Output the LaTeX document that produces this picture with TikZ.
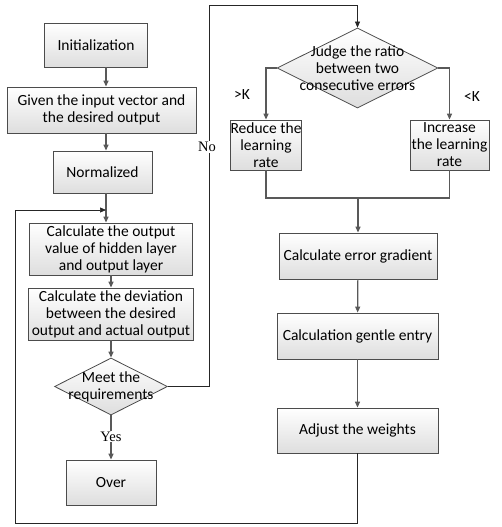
\documentclass[tikz,border=0pt]{standalone}
\usepackage{fontspec}
\setmainfont{Carlito}
\newfontfamily\answerfont{Liberation Serif}
\usetikzlibrary{shapes.geometric, arrows.meta}

\begin{document}
\begin{tikzpicture}[x=1pt, y=-1pt,
  every node/.style={font=\fontsize{15.5}{17}\selectfont, align=center},
  box/.style={draw=black!70, line width=0.8pt, rectangle, inner sep=0pt, top color=white, bottom color=black!13},
  decision/.style={draw=black!70, line width=0.8pt, diamond, inner sep=0pt, top color=white, bottom color=black!13},
  flow/.style={draw=black!65, line width=1.2pt},
  arr/.style={flow, -{Triangle[length=6pt, width=5pt]}},
  loopline/.style={draw=black!85, line width=0.7pt, -{Triangle[length=6pt, width=5pt]}},
  answer/.style={font=\answerfont\fontsize{14.5}{16}\selectfont, fill=white, inner sep=1pt}
]
\useasboundingbox (0,0) rectangle (502,527);

\node[box, minimum width=103, minimum height=44] (init) at (96,45) {Initialization};
\node[box, minimum width=189, minimum height=46] (given) at (101.5,110) {Given the input vector and\\the desired output};
\node[box, minimum width=99, minimum height=42] (norm) at (102.5,172) {Normalized};
\node[box, minimum width=163, minimum height=52] (calcout) at (111,249) {Calculate the output\\value of hidden layer\\and output layer};
\node[box, minimum width=165, minimum height=52] (dev) at (111,314) {Calculate the deviation\\between the desired\\output and actual output};
\node[decision, minimum width=113, minimum height=57] (meet) at (111,386.5) {};
\node (meettext) at (meet) {Meet the\\requirements};
\node[box, minimum width=90, minimum height=45] (over) at (111,482.5) {Over};

\node[decision, minimum width=161, minimum height=80] (judge) at (357.5,68) {};
\node (judgetext) at (judge) {Judge the ratio\\between two\\consecutive errors};
\node[box, minimum width=71, minimum height=50] (reduce) at (266,145) {Reduce the\\learning\\rate};
\node[box, minimum width=79, minimum height=50] (increase) at (449.5,145) {Increase\\the learning\\rate};
\node[box, minimum width=158, minimum height=46] (grad) at (358,256) {Calculate error gradient};
\node[box, minimum width=161, minimum height=46] (gentle) at (357.5,336) {Calculation gentle entry};
\node[box, minimum width=161, minimum height=45] (adjust) at (357.5,430.5) {Adjust the weights};

\coordinate (colA) at (106,0);
\coordinate (loopbl) at (15,523);
\coordinate (loopin) at (106,210);
\coordinate (notop) at (209,5);
\coordinate (merge) at (358,198);

\draw[arr] (init.south -| colA) -- (given.north -| colA);
\draw[arr] (given.south -| colA) -- (norm.north -| colA);
\draw[arr] (norm.south -| colA) -- (calcout.north -| colA);
\draw[arr] (calcout) -- (dev);
\draw[arr] (dev) -- (meet);
\draw[arr] (meet) -- (over) node[answer, pos=0.48] (yes) {Yes};

\draw[loopline] (meet.east) -| (notop) -| (judge.north);
\node[answer] (no) at (207,147) {No};

\draw[arr] (judge.west) -| (reduce.north);
\draw[arr] (judge.east) -| (increase.north);
\node (gtk) at (242,95) {>K};
\node (ltk) at (472,97) {<K};
\draw[flow] (reduce.south) |- (merge) -| (increase.south);
\draw[arr] (merge) -- (grad);
\draw[arr] (grad) -- (gentle);
\draw[arr] (gentle) -- (adjust);
\draw[loopline] (adjust.south) |- (loopbl) |- (loopin);
\end{tikzpicture}
\end{document}
